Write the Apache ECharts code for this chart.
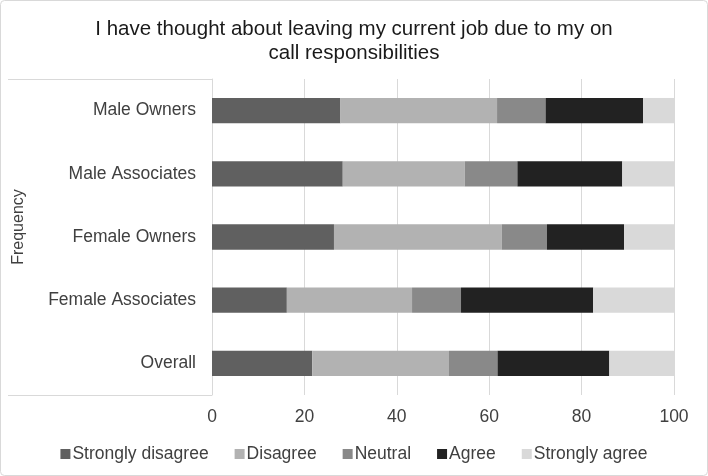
<!DOCTYPE html>
<html><head><meta charset="utf-8">
<script src="https://cdn.jsdelivr.net/npm/echarts@6/dist/echarts.min.js"></script>
<style>html,body{margin:0;padding:0;background:#fff}#c{width:708px;height:476px}</style>
</head><body><div id="c"></div>
<script>
const categories = ['Male Owners','Male Associates','Female Owners','Female Associates','Overall'];
const seriesNames = ['Strongly disagree','Disagree','Neutral','Agree','Strongly agree'];
const stronglyDisagree = [27.8, 28.3, 26.4, 16.2, 21.7];
const disagree = [33.9, 26.4, 36.3, 27.1, 29.6];
const neutral = [10.5, 11.4, 9.8, 10.6, 10.5];
const agree = [21.1, 22.7, 16.7, 28.6, 24.2];
const stronglyAgree = [6.7, 11.2, 10.8, 17.5, 14.0];
const xTicks = [0, 20, 40, 60, 80, 100];

const colors = ['#606060','#b2b2b2','#898989','#222222','#d9d9d9'];
const values = [stronglyDisagree, disagree, neutral, agree, stronglyAgree];
const font = 'Liberation Sans, Arial, sans-serif';
const G = {left: 212, right: 34, top: 79, bottom: 81};
const W = 708, H = 476;

const chart = echarts.init(document.getElementById('c'));
chart.setOption({
  animation: false,
  backgroundColor: '#fff',
  graphic: [
    {type:'rect', shape:{x:0.5,y:0.5,width:W-1,height:H-1,r:4}, style:{fill:'none', stroke:'#d9d9d9', lineWidth:1}, silent:true, z:-1},
    {type:'line', shape:{x1:8, y1:G.top+0.5, x2:G.left, y2:G.top+0.5}, style:{stroke:'#d9d9d9', lineWidth:1}, silent:true},
    {type:'line', shape:{x1:8, y1:H-G.bottom+0.5, x2:G.left, y2:H-G.bottom+0.5}, style:{stroke:'#d9d9d9', lineWidth:1}, silent:true},
    {type:'text', x:19, y:227, rotation:Math.PI/2, silent:true,
     style:{text:'Frequency', font:'16px Liberation Sans, Arial, sans-serif', fill:'#404040', textAlign:'center', textVerticalAlign:'middle'}}
  ],
  title: {
    text: 'I have thought about leaving my current job due to my on\ncall responsibilities',
    left: 'center', top: 12,
    textStyle: {fontFamily: font, fontSize: 20.5, fontWeight: 'normal', color: '#1a1a1a', lineHeight: 24}
  },
  legend: {
    top: 440, left: 'center', itemWidth: 10, itemHeight: 10, itemGap: 26,
    icon: 'rect',
    textStyle: {fontFamily: font, fontSize: 17.5, color: '#404040', padding: [0,0,0,-3]},
    data: seriesNames
  },
  grid: Object.assign({containLabel: false, outerBoundsMode: 'none'}, G),
  xAxis: {
    type: 'value', min: xTicks[0], max: xTicks[xTicks.length-1], interval: 20,
    axisLine: {show: false}, axisTick: {show: false},
    splitLine: {lineStyle: {color: '#d9d9d9', width: 1}},
    axisLabel: {fontFamily: font, fontSize: 17.5, color: '#404040', margin: 13}
  },
  yAxis: {
    type: 'category', data: categories, inverse: true,
    axisLine: {lineStyle: {color: '#d9d9d9'}},
    axisTick: {show: false},
    axisLabel: {fontFamily: font, fontSize: 17.5, color: '#404040', margin: 16}
  },
  series: seriesNames.map((n, i) => ({
    name: n, type: 'bar', stack: 'all', data: values[i],
    barCategoryGap: '60%',
    itemStyle: {color: colors[i]}
  }))
});
</script></body></html>
